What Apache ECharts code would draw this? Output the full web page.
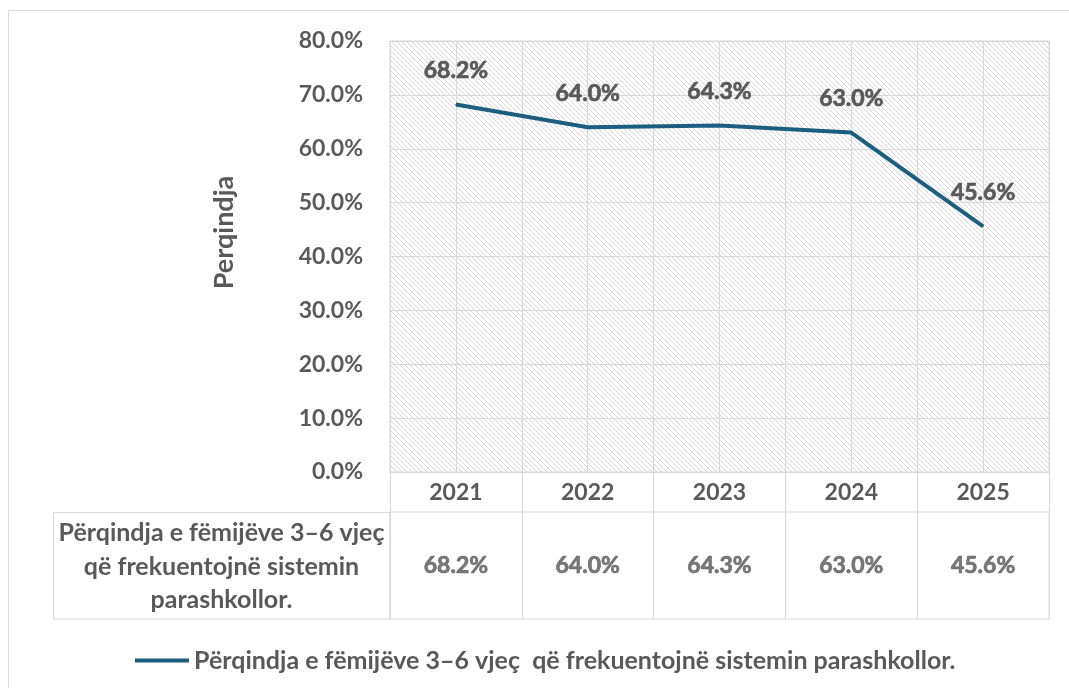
<!DOCTYPE html>
<html>
<head>
<meta charset="utf-8">
<script src="https://cdn.jsdelivr.net/npm/echarts@6/dist/echarts.min.js"></script>
<style>html,body{margin:0;padding:0;background:#fff}#c{width:1069px;height:688px}</style>
</head>
<body>
<div id="c"></div>
<script>
const categories = ['2021', '2022', '2023', '2024', '2025'];
const values = [68.2, 64.0, 64.3, 63.0, 45.6];
const seriesName = 'Përqindja e fëmijëve 3–6 vjeç  që frekuentojnë sistemin parashkollor.';
const tableHeader = ['Përqindja e fëmijëve 3–6 vjeç', 'që frekuentojnë sistemin', 'parashkollor.'];
const yAxisName = 'Perqindja';
const yTicks = {min: 0, max: 80, interval: 10};

const FONT = 'Lato';
const TXT = '#595959';
const GRIDC = '#d9d9d9';
const LINEC = '#1c5e80';

// hatch pattern for the plot background
const pc = document.createElement('canvas');
const s = 5;
pc.width = s; pc.height = s;
const g = pc.getContext('2d');
g.fillStyle = '#ffffff'; g.fillRect(0, 0, s, s);
g.strokeStyle = '#d6d6d6'; g.lineWidth = 1;
for (let k = -1; k <= 1; k++) { g.beginPath(); g.moveTo(k * s, 0); g.lineTo(k * s + s, s); g.stroke(); }

const chart = echarts.init(document.getElementById('c'), null, {renderer: 'canvas'});
const fmt = v => v.toFixed(1) + '%';
const boldLabel = {color: TXT, fontSize: 23, fontFamily: FONT, textBorderColor: TXT, textBorderWidth: 0.7};

chart.setOption({
  animation: false,
  textStyle: {fontFamily: FONT, fontWeight: 700},
  grid: [
    {left: 390, right: 20, top: 41, height: 431, show: true, borderColor: GRIDC, borderWidth: 1,
     backgroundColor: {image: pc, repeat: 'repeat'}},
    {left: 390, right: 20, top: 512, height: 107, show: true, borderColor: GRIDC, borderWidth: 1}
  ],
  xAxis: [
    {type: 'category', gridIndex: 0, data: categories, boundaryGap: true,
     axisLine: {show: true, lineStyle: {color: GRIDC}},
     axisTick: {show: true, length: 147, interval: 0, lineStyle: {color: GRIDC}},
     axisLabel: {margin: 9, color: TXT, fontSize: 23, fontWeight: 700, fontFamily: FONT},
     splitLine: {show: false}},
    {type: 'value', gridIndex: 0, min: 0, max: 10, interval: 1, position: 'top',
     axisLine: {show: false}, axisTick: {show: false}, axisLabel: {show: false},
     splitLine: {show: true, lineStyle: {color: GRIDC}}},
    {type: 'category', gridIndex: 1, data: categories, boundaryGap: true,
     axisLine: {show: false}, axisTick: {show: false}, axisLabel: {show: false},
     splitLine: {show: true, interval: 0, lineStyle: {color: GRIDC}}}
  ],
  yAxis: [
    {type: 'value', gridIndex: 0, min: yTicks.min, max: yTicks.max, interval: yTicks.interval,
     name: yAxisName, nameLocation: 'middle', nameRotate: 90, nameGap: 152,
     nameTextStyle: {color: TXT, fontSize: 27, fontWeight: 700, fontFamily: FONT, padding: [0, 0, 0, 48]},
     axisLine: {show: false}, axisTick: {show: false},
     axisLabel: {margin: 27, color: TXT, fontSize: 23, fontWeight: 700, fontFamily: FONT, formatter: fmt},
     splitLine: {show: true, lineStyle: {color: GRIDC}}},
    {type: 'value', gridIndex: 1, min: 0, max: 1, show: false}
  ],
  legend: {
    data: [seriesName], left: 130, top: 643, itemWidth: 54, itemHeight: 4, itemGap: 10,
    icon: 'path://M0,0 L54,0 L54,4 L0,4 Z',
    textStyle: {color: TXT, fontSize: 25, fontWeight: 700, fontFamily: FONT}
  },
  series: [
    {name: seriesName, type: 'line', xAxisIndex: 0, yAxisIndex: 0, data: values,
     symbol: 'circle', symbolSize: 1, itemStyle: {color: LINEC},
     lineStyle: {color: LINEC, width: 4},
     label: Object.assign({show: true, position: 'top', distance: 22, formatter: p => fmt(p.value)}, boldLabel)},
    {type: 'scatter', xAxisIndex: 2, yAxisIndex: 1, symbolSize: 0, silent: true,
     data: values.map((v, i) => ({value: [categories[i], 0.5]})),
     label: Object.assign({show: true, position: 'inside', formatter: p => fmt(values[p.dataIndex])}, boldLabel)}
  ],
  graphic: [
    {type: 'rect', shape: {x: 8.5, y: 10.5, width: 1200, height: 800}, style: {fill: 'none', stroke: GRIDC, lineWidth: 1}, silent: true},
    {type: 'rect', shape: {x: 53.5, y: 512.5, width: 336.5, height: 106.5}, style: {fill: 'none', stroke: GRIDC, lineWidth: 1}, silent: true},
    {type: 'text', x: 221.5, y: 533, style: {text: tableHeader[0], fill: TXT, font: 'bold 25px ' + FONT, textAlign: 'center', textVerticalAlign: 'middle'}},
    {type: 'text', x: 221.5, y: 567, style: {text: tableHeader[1], fill: TXT, font: 'bold 25px ' + FONT, textAlign: 'center', textVerticalAlign: 'middle'}},
    {type: 'text', x: 221.5, y: 600, style: {text: tableHeader[2], fill: TXT, font: 'bold 25px ' + FONT, textAlign: 'center', textVerticalAlign: 'middle'}}
  ]
});
</script>
</body>
</html>
